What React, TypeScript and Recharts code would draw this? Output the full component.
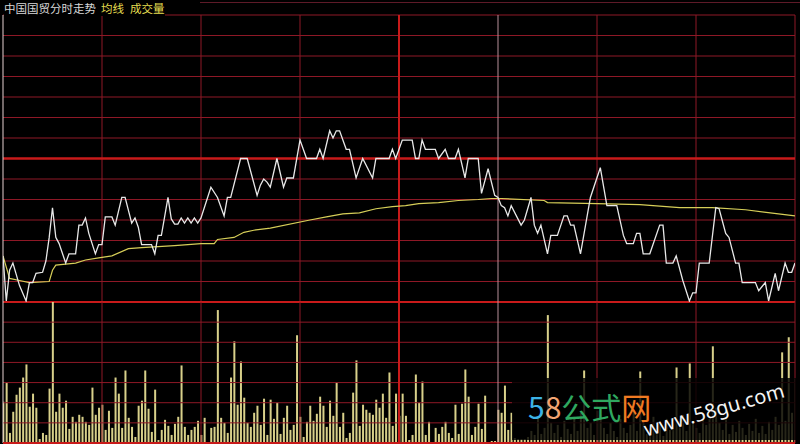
import React from 'react';
import { ComposedChart, Line, Bar, XAxis, YAxis, ReferenceLine } from 'recharts';

// ---- data ----
const priceMinutes = [0,1,2,3,5,7,8,9,10,12,13,14,15,16,17,19,20,22,23,24,25,26,28,29,30,31,33,34,36,37,39,40,41,42,45,46,47,48,50,51,52,53,54,55,56,57,58,59,60,63,65,67,68,69,72,74,77,78,79,80,81,83,85,86,88,90,92,95,96,97,99,100,101,102,104,105,107,109,112,113,117,118,119,121,124,125,126,127,128,131,132,134,135,137,138,140,141,144,145,147,149,150,151,152,153,154,157,158,160,161,162,163,165,166,168,170,171,172,173,175,178,181,183,186,188,189,191,192,193,194,196,199,200,201,203,204,206,208,209,210,211,214,216,217,219,220,222,223,224,228,229,231,232,234,235,237,238,239,240];
const priceValues = [9.905,9.861,9.891,9.898,9.876,9.861,9.879,9.879,9.888,9.889,9.900,9.923,9.952,9.923,9.917,9.898,9.907,9.907,9.935,9.935,9.942,9.927,9.907,9.916,9.916,9.943,9.943,9.935,9.962,9.962,9.937,9.942,9.933,9.916,9.916,9.907,9.925,9.925,9.962,9.941,9.936,9.936,9.942,9.937,9.942,9.937,9.942,9.937,9.942,9.972,9.962,9.944,9.962,9.962,10.000,10.000,9.964,9.974,9.980,9.977,9.972,10.000,9.972,9.981,9.981,10.018,10.000,10.000,10.009,10.000,10.027,10.020,10.027,10.027,10.009,10.009,9.981,10.000,9.981,10.000,10.000,10.009,10.000,10.018,10.018,10.000,10.000,10.018,10.009,10.009,10.000,10.009,10.000,10.000,10.009,9.981,10.000,10.000,9.966,9.990,9.964,9.962,9.954,9.952,9.944,9.954,9.935,9.940,9.962,9.935,9.927,9.935,9.907,9.925,9.925,9.944,9.944,9.935,9.935,9.907,9.962,9.991,9.954,9.954,9.925,9.917,9.917,9.927,9.927,9.907,9.907,9.935,9.935,9.898,9.898,9.905,9.881,9.861,9.869,9.869,9.898,9.898,9.952,9.951,9.927,9.923,9.898,9.898,9.879,9.879,9.871,9.879,9.861,9.888,9.871,9.898,9.889,9.889,9.898];

const avgMinutes = [0,2,5,8,14,15,16,22,25,29,33,38,42,47,52,60,64,65,70,73,76,81,93,98,103,108,113,118,122,126,132,138,144,148,151,164,165,180,193,205,215,225,235,240];
const avgValues = [9.905,9.883,9.881,9.879,9.880,9.891,9.896,9.898,9.901,9.903,9.905,9.912,9.913,9.914,9.915,9.917,9.917,9.921,9.923,9.928,9.930,9.932,9.940,9.943,9.946,9.947,9.951,9.953,9.954,9.956,9.957,9.959,9.960,9.961,9.961,9.959,9.957,9.956,9.955,9.952,9.952,9.950,9.946,9.944];

const volumeValues = [
  410,600,100,310,480,550,650,780,360,490,
  350,40,100,80,540,1400,310,490,350,420,
  140,260,210,280,260,210,180,550,280,350,
  380,130,320,150,650,490,150,720,250,160,
  60,370,420,720,340,110,530,30,130,230,
  170,80,190,260,770,160,80,130,160,220,
  80,250,10,150,160,1320,250,200,100,650,
  1010,380,810,450,200,160,300,370,180,440,
  80,430,240,400,90,250,370,130,180,1070,
  260,60,210,370,220,290,460,370,160,420,
  270,600,160,300,50,100,500,820,170,380,
  330,300,280,430,350,490,250,700,170,490,
  270,490,270,30,80,680,400,610,80,210,
  10,150,90,160,210,100,50,380,90,390,
  730,460,80,160,390,140,470,10,20,20,
  330,300,570,130,300,50,40,40,40,60,
  120,80,250,90,150,1270,200,100,180,60,
  220,140,90,260,120,300,720,150,200,80,
  320,280,150,90,200,120,60,240,150,100,
  180,330,120,710,200,90,150,260,110,180,
  70,240,130,200,750,160,280,120,790,210,
  150,100,300,180,240,960,350,200,130,260,
  90,180,110,220,150,80,190,120,240,100,
  170,90,210,130,260,180,900,220,1050,300,640
];

const priceGridLevels = [9.88,9.90,9.92,9.94,9.96,9.98,10.02,10.04,10.06,10.08,10.10,10.12,10.14];
const volumeGridLevels = [200,400,600,800,1000,1200];
const timeGridMinutes = [30,60,90,180,210,240];
const prevClose = 10.0;
const priceMin = 9.86;
const priceMax = 10.14;
const volumeMax = 1400;
const noonMinute = 120;
const paleMinute = 150;

const titleMain = '中国国贸分时走势';
const titleAvg = '均线';
const titleVol = '成交量';

const GRID = '#8e1826';
const THICK = '#c81a1a';
const PALE = '#b8909a';
const BORDER = '#e6d2d2';
const CJK = '"Noto Sans CJK SC", "Noto Sans", sans-serif';

export default function App() {
  const priceData = priceMinutes.map((m, i) => ({ m, price: priceValues[i] }));
  const avgData = avgMinutes.map((m, i) => ({ m, avg: avgValues[i] }));
  const volumeData = volumeValues.map((v, i) => ({ m: i, vol: v }));

  return (
    <div style={{ position: 'fixed', left: 0, top: 0, width: 800, height: 444, background: '#000', overflow: 'hidden' }}>
      <div style={{ position: 'absolute', left: 200, right: 0, top: 2, height: 1, background: '#5e1a28' }} />
      <div style={{ position: 'absolute', left: 0, top: 0 }}>
        <ComposedChart width={800} height={303} margin={{ top: 15, right: 5, bottom: 1, left: 3 }}>
          <XAxis dataKey="m" type="number" domain={[0, 240]} hide allowDataOverflow />
          <YAxis type="number" domain={[priceMin, priceMax]} hide allowDataOverflow />
          {priceGridLevels.map((v) => (
            <ReferenceLine key={'py' + v} y={v} stroke={GRID} strokeWidth={1} ifOverflow="visible" />
          ))}
          {timeGridMinutes.map((m) => (
            <ReferenceLine key={'px' + m} x={m} stroke={GRID} strokeWidth={1} ifOverflow="visible" />
          ))}
          <ReferenceLine y={prevClose} stroke={THICK} strokeWidth={2.5} />
          <ReferenceLine y={priceMin} stroke={THICK} strokeWidth={2} ifOverflow="visible" />
          <ReferenceLine x={noonMinute} stroke={THICK} strokeWidth={2} />
          <ReferenceLine x={paleMinute} stroke={PALE} strokeWidth={1} />
          <ReferenceLine x={0} stroke={BORDER} strokeWidth={1} ifOverflow="visible" />
          <Line data={avgData} dataKey="avg" type="linear" stroke="#d6ce58" strokeWidth={1.2} dot={false} isAnimationActive={false} />
          <Line data={priceData} dataKey="price" type="linear" stroke="#e8e8e8" strokeWidth={1.3} dot={false} isAnimationActive={false} />
        </ComposedChart>
      </div>
      <div style={{ position: 'absolute', left: 0, top: 302 }}>
        <ComposedChart width={800} height={142} data={volumeData} margin={{ top: 0, right: 5, bottom: 1, left: 3 }}>
          <XAxis dataKey="m" type="number" domain={[0, 240]} hide allowDataOverflow />
          <YAxis type="number" domain={[0, volumeMax]} hide allowDataOverflow />
          {volumeGridLevels.map((v) => (
            <ReferenceLine key={'vy' + v} y={v} stroke={GRID} strokeWidth={1} />
          ))}
          {timeGridMinutes.map((m) => (
            <ReferenceLine key={'vx' + m} x={m} stroke={GRID} strokeWidth={1} ifOverflow="visible" />
          ))}
          <ReferenceLine x={noonMinute} stroke={THICK} strokeWidth={2} />
          <ReferenceLine x={paleMinute} stroke={PALE} strokeWidth={1} />
          <ReferenceLine x={0} stroke={BORDER} strokeWidth={1} ifOverflow="visible" />
          <ReferenceLine y={0} stroke={THICK} strokeWidth={2} ifOverflow="visible" />
          <Bar dataKey="vol" fill="#d8d08a" barSize={2} isAnimationActive={false} />
        </ComposedChart>
      </div>
      <div style={{ position: 'absolute', left: 4, top: 0, height: 16, lineHeight: '16px', fontSize: 11.5, fontFamily: CJK, whiteSpace: 'nowrap', background: '#000' }}>
        <span style={{ color: '#d8d8d8' }}>{titleMain}</span>
        <span style={{ color: '#e6de50', marginLeft: 5 }}>{titleAvg}</span>
        <span style={{ color: '#e6de50', marginLeft: 6 }}>{titleVol}</span>
      </div>
      <div style={{ position: 'absolute', left: 512, top: 378, width: 288, height: 62, background: 'rgba(0,0,0,0.82)' }} />
      <div style={{ position: 'absolute', left: 528, top: 391, fontSize: 30, lineHeight: '30px', fontFamily: CJK, whiteSpace: 'nowrap' }}>
        <span style={{ color: '#3cb2e6' }}>5</span>
        <span style={{ color: '#f2a472' }}>8</span>
        <span style={{ color: '#2fa860' }}>公式</span>
        <span style={{ color: '#f07a22' }}>网</span>
      </div>
      <div style={{ position: 'absolute', left: 714, top: 410, transform: 'translate(-50%, -50%) rotate(-16deg)', fontSize: 20, lineHeight: '24px', fontFamily: '"Noto Sans", sans-serif', color: '#f4f4f4', whiteSpace: 'nowrap', textShadow: '0 0 2px #000, 0 0 2px #000' }}>
        www.58gu.com
      </div>
    </div>
  );
}
